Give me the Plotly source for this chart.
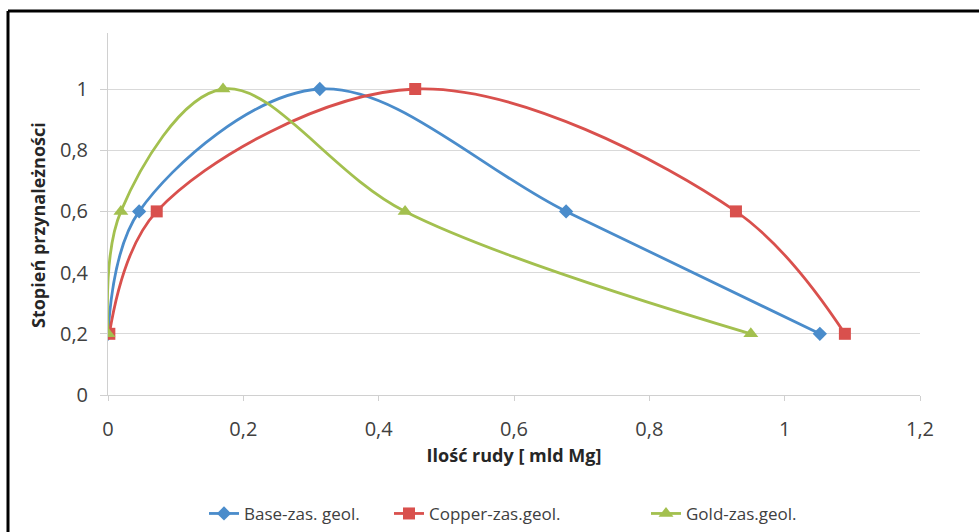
import plotly.graph_objects as go

base_x = [0.0, 0.046, 0.313, 0.677, 1.052]
base_y = [0.2, 0.6, 1.0, 0.6, 0.2]
copper_x = [0.002, 0.072, 0.454, 0.928, 1.089]
copper_y = [0.2, 0.6, 1.0, 0.6, 0.2]
gold_x = [0.0, 0.019, 0.170, 0.439, 0.950]
gold_y = [0.2, 0.6, 1.0, 0.6, 0.2]

names = ["Base-zas. geol.", "Copper-zas.geol.", "Gold-zas.geol."]
colors = ["#4A8CCB", "#D9504D", "#A3C04F"]
symbols = ["diamond", "square", "triangle-up"]
sizes = [11, 12, 13]
legend_ids = ["legend", "legend2", "legend3"]
legend_px = [204, 389, 646]

L, R, T, B = 108, 59, 33, 137
W, H = 979, 532
pw = W - L - R
ph = H - T - B

fig = go.Figure()
for (xs, ys), name, c, s, sz, lid in zip(
    [(base_x, base_y), (copper_x, copper_y), (gold_x, gold_y)], names, colors, symbols, sizes, legend_ids
):
    fig.add_trace(go.Scatter(
        x=xs, y=ys, name=name, mode="lines+markers", legend=lid,
        line=dict(color=c, width=2.8, shape="spline", smoothing=1),
        marker=dict(symbol=s, size=sz, color=c),
    ))

font = "Open Sans, sans-serif"
legend_common = dict(orientation="h", xanchor="left", yref="container", y=0.034, yanchor="middle",
                     font=dict(size=17, color="#404040"), bgcolor="rgba(0,0,0,0)")
legends = {}
for lid, px in zip(legend_ids, legend_px):
    legends[lid] = dict(legend_common, x=(px - L) / pw)

fig.update_layout(
    width=W, height=H,
    margin=dict(l=L, r=R, t=T, b=B),
    paper_bgcolor="white", plot_bgcolor="white",
    separators=", ",
    font=dict(family=font, size=16, color="#404040"),
    showlegend=True,
    xaxis=dict(range=[0, 1.2], dtick=0.2, tick0=0, showgrid=False, zeroline=False, automargin=False,
               showline=True, linecolor="#d0d0d0", linewidth=1,
               ticks="outside", ticklen=5, tickcolor="#d0d0d0", ticklabelstandoff=11,
               tickfont=dict(size=20, color="#404040"),
               title=dict(text="<b>Ilość rudy [ mld Mg]</b>", font=dict(size=18, color="#262626"), standoff=8)),
    yaxis=dict(range=[0, 1.183], dtick=0.2, tick0=0, showgrid=True, gridcolor="#d9d9d9",
               zeroline=False, showline=True, linecolor="#d0d0d0", linewidth=1, automargin=False,
               ticks="outside", ticklen=7, tickcolor="#d0d0d0", ticklabelstandoff=8,
               tickfont=dict(size=20, color="#404040")),
    annotations=[
        dict(text="<b>Stopień przynależności</b>", textangle=-90, showarrow=False,
             xref="paper", yref="paper", x=(38 - L) / pw, y=(H - B - 225) / ph,
             xanchor="center", yanchor="middle", font=dict(size=18, color="#262626")),
    ],
    shapes=[
        dict(type="line", xref="paper", yref="paper", x0=(8 - L) / pw, x1=1.08, y0=(H - B - 11) / ph,
             y1=(H - B - 11) / ph, line=dict(color="black", width=3)),
        dict(type="line", xref="paper", yref="paper", x0=(8 - L) / pw, x1=(8 - L) / pw,
             y0=(H - B - 11) / ph, y1=-0.40, line=dict(color="black", width=3)),
    ],
    **legends,
)

fig.write_html("out.html")
